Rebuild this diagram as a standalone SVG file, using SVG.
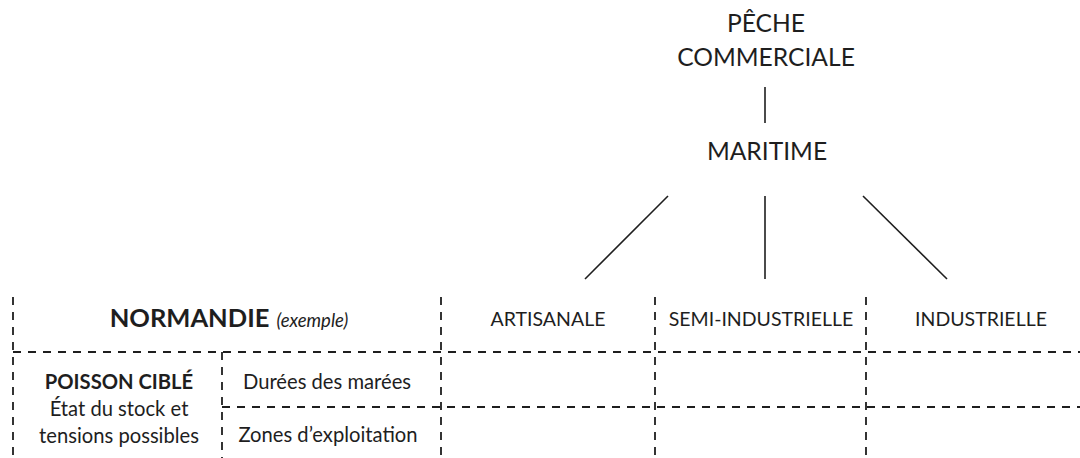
<svg xmlns="http://www.w3.org/2000/svg" width="1080" height="458" viewBox="0 0 1080 458">
<style>
text{font-family:"Lato","Open Sans","Liberation Sans",sans-serif;fill:#1e1e1e;text-anchor:middle}
.big{font-size:24.6px}
.hd{font-size:19.5px}
.cell{font-size:20.2px}
.b{font-weight:bold}
.solid{stroke:#1e1e1e;stroke-width:1.6;fill:none}
.dash{stroke:#1e1e1e;stroke-width:1.8;fill:none;stroke-dasharray:8 7}
</style>
<rect width="1080" height="458" fill="#ffffff"/>
<g id="connectors">
<line class="solid" x1="765" y1="87" x2="765" y2="123"/>
<line class="solid" x1="668" y1="196" x2="585" y2="279"/>
<line class="solid" x1="765" y1="196" x2="765" y2="279"/>
<line class="solid" x1="863" y1="196" x2="947" y2="279"/>
</g>
<g id="grid">
<line class="dash" x1="13" y1="297" x2="13" y2="458"/>
<line class="dash" x1="222" y1="352" x2="222" y2="458"/>
<line class="dash" x1="441" y1="297" x2="441" y2="458"/>
<line class="dash" x1="655" y1="297" x2="655" y2="458"/>
<line class="dash" x1="866" y1="297" x2="866" y2="458"/>
<line class="dash" x1="13" y1="352" x2="1080" y2="352"/>
<line class="dash" x1="222" y1="407" x2="1080" y2="407"/>
</g>
<g id="peche-commerciale">
<text class="big" x="766" y="32">PÊCHE</text>
<text class="big" x="766" y="66">COMMERCIALE</text>
</g>
<g id="maritime">
<text class="big" x="767" y="160">MARITIME</text>
</g>
<g id="normandie">
<text x="229" y="327"><tspan class="b" font-size="25.5px">NORMANDIE</tspan><tspan font-size="18.5px" font-style="italic" dx="7">(exemple)</tspan></text>
</g>
<g id="artisanale">
<text class="hd" x="548" y="326">ARTISANALE</text>
</g>
<g id="semi-industrielle">
<text class="hd" x="761" y="326">SEMI-INDUSTRIELLE</text>
</g>
<g id="industrielle">
<text class="hd" x="981" y="326">INDUSTRIELLE</text>
</g>
<g id="poisson-cible">
<text class="cell b" x="119" y="389">POISSON CIBLÉ</text>
<text class="cell" x="119" y="416">État du stock et</text>
<text class="cell" x="119" y="443">tensions possibles</text>
</g>
<g id="durees">
<text class="cell" x="327" y="389">Durées des marées</text>
</g>
<g id="zones">
<text class="cell" x="328" y="442">Zones d’exploitation</text>
</g>
</svg>
